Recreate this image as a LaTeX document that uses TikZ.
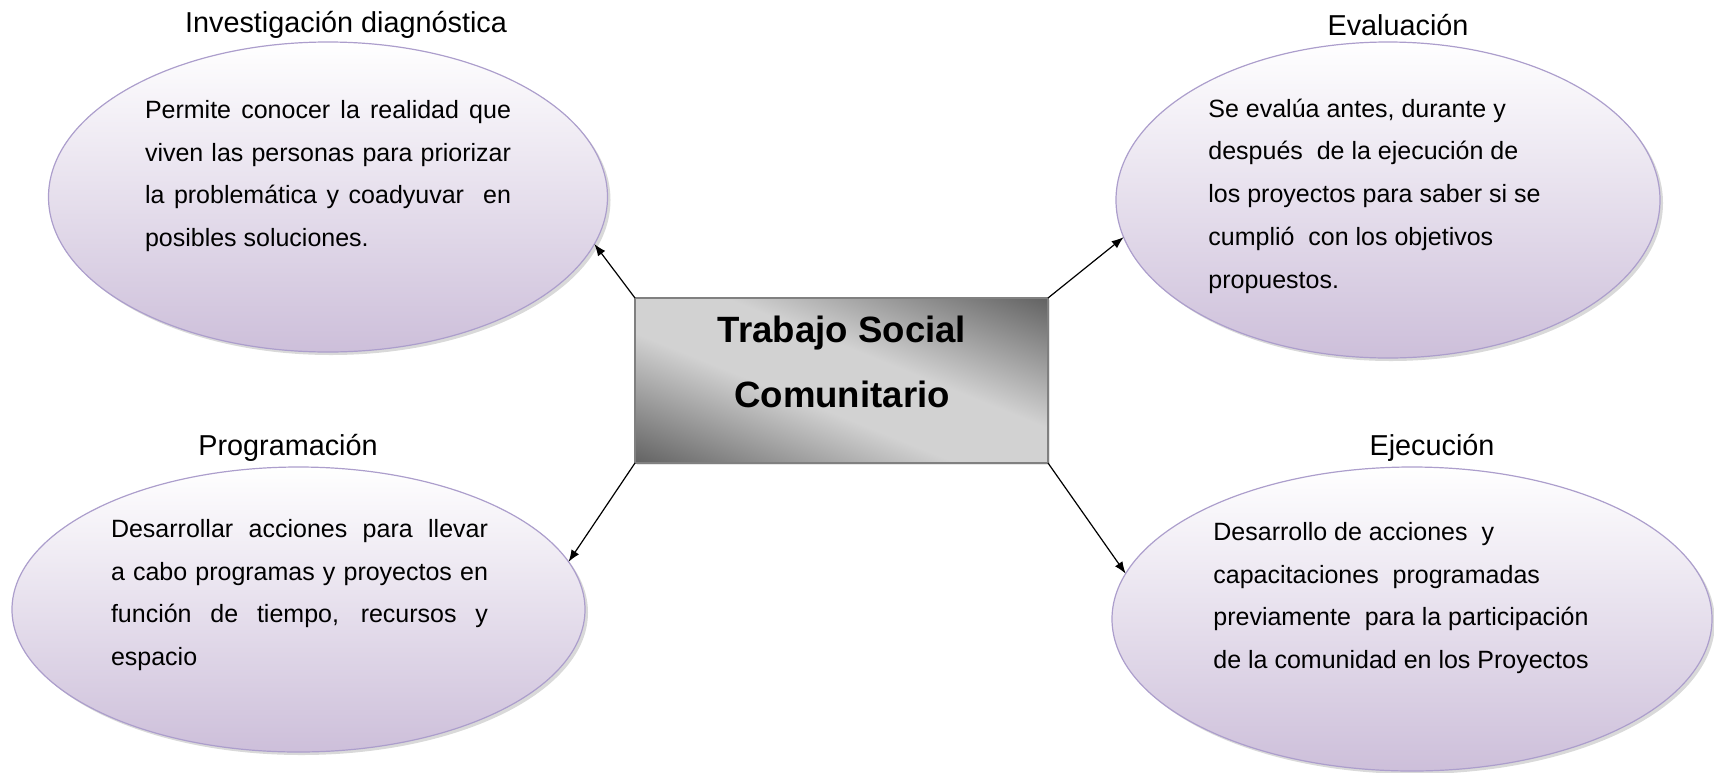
\documentclass[tikz,border=0pt]{standalone}
\usepackage{fontspec}
\setmainfont{Liberation Sans}
\usetikzlibrary{shapes.geometric,shadows,arrows.meta}

\definecolor{bubblebot}{RGB}{205,191,218}
\definecolor{bubbleline}{RGB}{172,158,204}
\definecolor{hubdark}{RGB}{96,96,96}
\definecolor{hublight}{RGB}{210,210,210}
\pgfdeclareverticalshading{hubshade}{100bp}{color(0bp)=(hubdark); color(17bp)=(hubdark);
    color(43bp)=(hublight); color(57bp)=(hublight); color(83bp)=(hubdark); color(100bp)=(hubdark)}

\begin{document}
\begin{tikzpicture}[x=0.5pt, y=-0.5pt,
    bubble/.style={ellipse, draw=bubbleline, line width=0.6pt,
        top color=white, bottom color=bubblebot, inner sep=0pt, outer sep=0pt,
        drop shadow={shadow xshift=1.5pt, shadow yshift=-1.5pt, opacity=0.3}},
    hub/.style={rectangle, draw=gray, line width=0.6pt,
        shade, shading=hubshade, shading angle=-22,
        minimum width=206.5pt, minimum height=82.5pt,
        inner sep=0pt, outer sep=0pt,
        drop shadow={shadow xshift=1pt, shadow yshift=-1pt, opacity=0.2}},
    heading/.style={font=\fontsize{14.4}{17}\selectfont, inner sep=0pt},
    body/.style={font=\fontsize{12.5}{21.4}\selectfont, inner sep=0pt},
    link/.style={line width=0.6pt, -{Latex[length=6pt,width=4.5pt]}}
]
    \useasboundingbox (0,0) rectangle (1714,772);

    % titles
    \node[heading] (tinv) at (346,25) {Investigación diagnóstica};
    \node[heading] (teva) at (1398,25) {Evaluación};
    \node[heading] (tpro) at (288,448) {Programación};
    \node[heading] (teje) at (1432,448) {Ejecución};

    % bubbles
    \node[bubble, minimum width=279.5pt, minimum height=155pt] (inv) at (328,197) {};
    \node[bubble, minimum width=272pt, minimum height=158pt] (eva) at (1388,200) {};
    \node[bubble, minimum width=286.5pt, minimum height=142.5pt] (pro) at (298.5,609.5) {};
    \node[bubble, minimum width=300pt, minimum height=152pt] (eje) at (1412,619) {};

    % bubble texts
    \node[body, text width=183pt, align=justify] (xinv) at (328,176)
        {Permite conocer la realidad que\linebreak viven las personas para priorizar\linebreak
         la problemática y coadyuvar \ en\linebreak posibles soluciones.};
    \node[body, align=left, anchor=west] (xeva) at (1208,196)
        {Se evalúa antes, durante y\\después \ de la ejecución de\\los proyectos para saber si se\\
         cumplió \ con los objetivos\\propuestos.};
    \node[body, text width=188.5pt, align=justify] (xpro) at (299.5,595)
        {Desarrollar acciones para llevar\linebreak a cabo programas y proyectos en\linebreak
         función de tiempo, recursos y\linebreak espacio};
    \node[body, align=left, anchor=west] (xeje) at (1213,598)
        {Desarrollo de acciones \ y\\capacitaciones \ programadas\\
         previamente \ para la participación\\de la comunidad en los Proyectos};

    % centre
    \node[hub] (hub) at (841.5,380.5) {};
    \node[font=\fontsize{18.3}{32.5}\selectfont\bfseries, align=center, inner sep=0pt]
        (lhub) at (842,362) {Trabajo Social\\Comunitario};

    \draw[link] (hub.north west) -- (inv.-10);
    \draw[link] (hub.north east) -- (eva.188);
    \draw[link] (hub.south west) -- (pro.10);
    \draw[link] (hub.south east) -- (eje.171);
\end{tikzpicture}
\end{document}
